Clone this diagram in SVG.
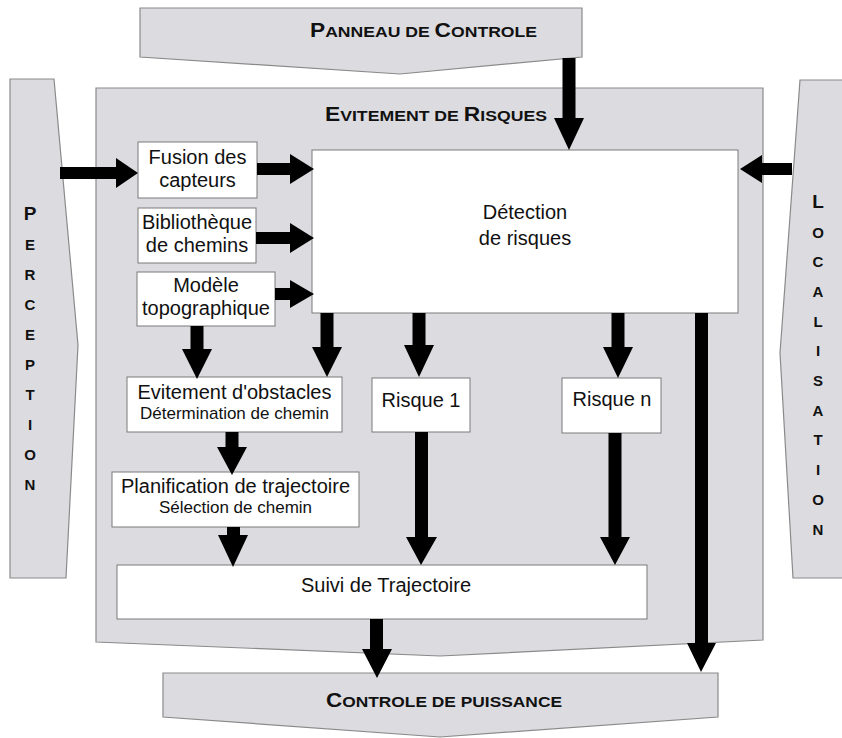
<svg xmlns="http://www.w3.org/2000/svg" width="842" height="738" viewBox="0 0 842 738">
<style>
.band{fill:#dcdce0;stroke:#8a8a8a;stroke-width:1.2}
.box{fill:#ffffff;stroke:#7a7a7a;stroke-width:1}
.t{font-family:"Liberation Sans",Arial,sans-serif;font-size:20px;fill:#111;text-anchor:middle}
.s{font-family:"Liberation Sans",Arial,sans-serif;font-size:17px;fill:#111;text-anchor:middle}
.h{font-family:"Liberation Sans",Arial,sans-serif;font-weight:bold;fill:#111}
.big{font-size:20px}
.sm{font-size:15.5px}
.v{font-family:"Liberation Sans",Arial,sans-serif;font-weight:bold;font-size:15px;fill:#111;text-anchor:middle}
.arr{fill:#000}
</style>
<rect width="842" height="738" fill="#ffffff"/>

<g id="panneau">
<polygon class="band" points="140,8 582,8 582,57 400,74 140,57"/>
<text class="h" x="310" y="37" textLength="227" lengthAdjust="spacingAndGlyphs"><tspan class="big">P</tspan><tspan class="sm">ANNEAU DE </tspan><tspan class="big">C</tspan><tspan class="sm">ONTROLE</tspan></text>
</g>

<g id="perception">
<polygon class="band" points="10,79 54,79 78,345 66,578 10,578"/>
<text class="v" x="30" y="220" style="font-size:19px">P</text>
<text class="v" x="30" y="250">E</text>
<text class="v" x="30" y="280">R</text>
<text class="v" x="30" y="310">C</text>
<text class="v" x="30" y="340">E</text>
<text class="v" x="30" y="370">P</text>
<text class="v" x="30" y="400">T</text>
<text class="v" x="30" y="430">I</text>
<text class="v" x="30" y="460">O</text>
<text class="v" x="30" y="490">N</text>
</g>

<g id="localisation">
<polygon class="band" points="800,80 848,80 848,578 793,578 780,353"/>
<text class="v" x="818" y="208" style="font-size:19px">L</text>
<text class="v" x="818" y="238">O</text>
<text class="v" x="818" y="267">C</text>
<text class="v" x="818" y="297">A</text>
<text class="v" x="818" y="327">L</text>
<text class="v" x="818" y="356">I</text>
<text class="v" x="818" y="386">S</text>
<text class="v" x="818" y="416">A</text>
<text class="v" x="818" y="445">T</text>
<text class="v" x="818" y="475">I</text>
<text class="v" x="818" y="505">O</text>
<text class="v" x="818" y="535">N</text>
</g>

<g id="evitement">
<polygon class="band" points="96,88 763,88 763,640 440,656 96,642"/>
<text class="h" x="325" y="121" textLength="222" lengthAdjust="spacingAndGlyphs"><tspan class="big">E</tspan><tspan class="sm">VITEMENT DE </tspan><tspan class="big">R</tspan><tspan class="sm">ISQUES</tspan></text>
</g>

<g id="controle">
<polygon class="band" points="163,673 718,673 718,717 440,737 163,717"/>
<text class="h" x="326" y="707" textLength="236" lengthAdjust="spacingAndGlyphs"><tspan class="big">C</tspan><tspan class="sm">ONTROLE DE PUISSANCE</tspan></text>
</g>

<g id="fusion">
<rect class="box" x="138" y="142" width="119" height="56"/>
<text class="t" x="197.5" y="164">Fusion des</text>
<text class="t" x="197.5" y="187">capteurs</text>
</g>

<g id="bibliotheque">
<rect class="box" x="138" y="208" width="118" height="55"/>
<text class="t" x="197" y="229">Bibliothèque</text>
<text class="t" x="197" y="252">de chemins</text>
</g>

<g id="modele">
<rect class="box" x="137" y="272" width="138" height="54"/>
<text class="t" x="206" y="292">Modèle</text>
<text class="t" x="206" y="315">topographique</text>
</g>

<g id="detection">
<rect class="box" x="312" y="150" width="426" height="163"/>
<text class="t" x="525" y="219">Détection</text>
<text class="t" x="525" y="245">de risques</text>
</g>

<g id="obstacles">
<rect class="box" x="127" y="377" width="215" height="55"/>
<text class="t" x="234.5" y="399">Evitement d'obstacles</text>
<text class="s" x="234.5" y="419">Détermination de chemin</text>
</g>

<g id="risque1">
<rect class="box" x="372" y="378" width="98" height="54"/>
<text class="t" x="421" y="407">Risque 1</text>
</g>

<g id="risquen">
<rect class="box" x="562" y="378" width="99" height="55"/>
<text class="t" x="612" y="406">Risque n</text>
</g>

<g id="planification">
<rect class="box" x="112" y="472" width="247" height="55"/>
<text class="t" x="235.5" y="493">Planification de trajectoire</text>
<text class="s" x="235.5" y="513">Sélection de chemin</text>
</g>

<g id="suivi">
<rect class="box" x="117" y="565" width="530" height="54"/>
<text class="t" x="386" y="592">Suivi de Trajectoire</text>
</g>

<g id="connectors" class="arr">
<polygon points="60,167 116,167 116,158 138,173 116,188 116,179 60,179"/>
<polygon points="257,163 290,163 290,154 314,169 290,184 290,175 257,175"/>
<polygon points="256,232 290,232 290,223 314,238 290,253 290,244 256,244"/>
<polygon points="275,288 290,288 290,280 314,294 290,308 290,300 275,300"/>
<polygon points="792,163 762,163 762,155 740,169 762,183 762,175 792,175"/>
<polygon points="562.5,58 575.5,58 575.5,118 584,118 569,150 554,118 562.5,118"/>
<polygon points="190.5,326 203.5,326 203.5,349 212,349 197,379 182,349 190.5,349"/>
<polygon points="320.5,313 333.5,313 333.5,347 342,347 327,377 312,347 320.5,347"/>
<polygon points="412.5,313 425.5,313 425.5,345 434,345 419,377 404,345 412.5,345"/>
<polygon points="611.5,313 624.5,313 624.5,347 633,347 618,378 603,347 611.5,347"/>
<polygon points="225.5,432 238.5,432 238.5,447 247,447 232,475 217,447 225.5,447"/>
<polygon points="227,527 240,527 240,535 248,535 233,567 218,535 227,535"/>
<polygon points="415,432 428,432 428,537 437,537 421,565 406,537 415,537"/>
<polygon points="608.5,433 621.5,433 621.5,537 630,537 615,565 600,537 608.5,537"/>
<polygon points="695,313 708,313 708,643 716,643 701,672 687,643 695,643"/>
<polygon points="370,619 383,619 383,649 392,649 377,678 362,649 370,649"/>
</g>
</svg>
